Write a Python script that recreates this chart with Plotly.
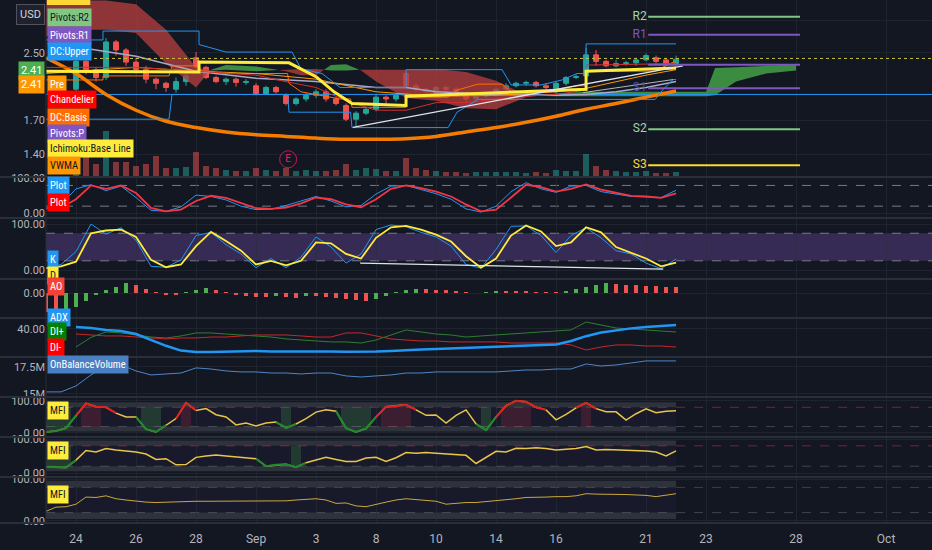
import math
import plotly.graph_objects as go

# ---- time axis: trading days, Aug 24 = 0 ----
tick_days = [0, 2, 4, 6, 8, 10, 12, 14, 16, 19, 21, 24, 27]
tick_text = ["24", "26", "28", "Sep", "3", "8", "10", "14", "16", "21", "23", "28", "Oct"]

# ---- price candles (3 per day) ----
opens = [2.03, 2.38, 2.27, 2.17, 2.66, 2.54, 2.37, 2.27, 2.15, 2.10, 2.03, 2.12, 2.43, 2.30, 2.17,
         2.12, 2.15, 2.11, 2.07, 1.98, 2.05, 1.96, 1.87, 1.92, 1.96, 2.00, 1.92, 1.85, 1.71, 1.77,
         1.81, 1.94, 1.92, 2.22, 2.07, 2.03, 1.98, 2.05, 2.03, 1.96, 1.92, 1.95, 1.96, 2.03, 2.07,
         2.10, 2.11, 2.07, 2.00, 2.10, 2.17, 2.19, 2.47, 2.38, 2.32, 2.35, 2.36, 2.40, 2.43, 2.40, 2.35]
closes = [2.38, 2.27, 2.17, 2.66, 2.54, 2.37, 2.27, 2.15, 2.10, 2.05, 2.12, 2.19, 2.30, 2.17, 2.12,
          2.15, 2.11, 2.12, 1.98, 2.05, 2.00, 1.87, 1.92, 1.96, 2.00, 1.92, 1.87, 1.71, 1.77, 1.81,
          1.94, 1.92, 1.96, 2.07, 2.03, 2.00, 2.05, 2.03, 1.96, 1.92, 1.95, 1.98, 2.03, 2.07, 2.10,
          2.11, 2.07, 2.05, 2.10, 2.17, 2.18, 2.47, 2.38, 2.32, 2.35, 2.36, 2.40, 2.46, 2.38, 2.35, 2.41]
highs = [2.43, 2.57, 2.30, 2.72, 2.69, 2.57, 2.43, 2.32, 2.17, 2.12, 2.17, 2.27, 2.51, 2.32, 2.19,
         2.17, 2.17, 2.15, 2.10, 2.07, 2.07, 1.98, 1.94, 1.99, 2.03, 2.03, 1.94, 1.87, 1.79, 1.83,
         1.97, 1.96, 1.98, 2.24, 2.10, 2.05, 2.07, 2.07, 2.05, 1.98, 1.97, 2.00, 2.05, 2.10, 2.12,
         2.13, 2.13, 2.10, 2.12, 2.19, 2.21, 2.57, 2.54, 2.40, 2.40, 2.39, 2.43, 2.49, 2.46, 2.43, 2.46]
lows = [2.00, 2.21, 2.12, 2.14, 2.46, 2.32, 2.22, 2.10, 2.03, 2.00, 1.99, 2.07, 2.27, 2.15, 2.10,
        2.08, 2.06, 2.08, 1.96, 1.97, 1.98, 1.85, 1.85, 1.89, 1.93, 1.89, 1.85, 1.69, 1.63, 1.75,
        1.79, 1.87, 1.89, 2.05, 2.00, 1.98, 1.96, 2.00, 1.94, 1.89, 1.89, 1.93, 1.94, 2.00, 2.05,
        2.07, 2.05, 2.03, 1.98, 2.07, 2.15, 2.17, 2.32, 2.30, 2.30, 2.32, 2.32, 2.38, 2.35, 2.32, 2.32]
volumes = [4.0, 2.7, 1.2, 4.5, 1.4, 1.4, 1.0, 1.2, 2.0, 0.8, 0.8, 0.9, 2.4, 1.0, 0.8,
           0.6, 0.5, 0.5, 0.8, 0.6, 0.5, 0.8, 0.5, 0.6, 0.5, 0.5, 0.6, 1.2, 0.6, 0.8,
           0.7, 0.5, 0.5, 1.8, 0.8, 0.6, 0.5, 0.4, 0.4, 0.3, 0.4, 0.4, 0.4, 0.4, 0.4,
           0.3, 0.4, 0.3, 0.6, 0.5, 0.5, 2.2, 1.0, 0.6, 0.5, 0.4, 0.4, 0.5, 0.3, 0.3, 0.4]
candle_day = [i / 3 for i in range(len(opens))]

# ---- overlays on the price pane ----
ma_day = list(range(-1, 21))
ma_val = [2.43, 2.22, 1.97, 1.80, 1.69, 1.63, 1.59, 1.565, 1.55, 1.535, 1.525,
          1.525, 1.53, 1.55, 1.59, 1.63, 1.68, 1.74, 1.81, 1.87, 1.94, 2.01]

cloud_day = [-1, 0, 1, 2, 3, 4, 4.5, 5, 6, 7, 7.5, 8, 8.5, 9, 9.5, 10, 11, 12, 13, 14,
             15, 16, 17, 18, 19, 20, 21, 21.3, 22, 23, 24]
span_a = [2.75, 2.85, 2.85, 2.8, 2.35, 2.05, 2.27, 2.33, 2.31, 2.25, 2.20, 2.20, 2.33, 2.34, 2.26,
          2.12, 1.93, 1.90, 1.82, 1.81, 1.94, 1.98, 2.0, 2.0, 2.0, 2.0, 2.0, 2.29, 2.30, 2.32, 2.34]
span_b = [3.37, 3.37, 3.37, 3.3, 2.85, 2.3, 2.26, 2.27, 2.25, 2.27, 2.28, 2.28, 2.26, 2.26, 2.27,
          2.27, 2.27, 2.28, 2.24, 2.13, 1.96, 1.95, 1.95, 1.95, 1.95, 1.95, 1.95, 1.96, 2.12, 2.22, 2.26]

base_day = [-1, 4.1, 4.1, 7.1, 8.0, 8.6, 9.2, 11.0, 11.0, 17.0, 17.0, 20.0]
base_val = [2.25, 2.24, 2.37, 2.36, 2.18, 2.00, 1.87, 1.85, 1.95, 2.03, 2.25, 2.29]

dcu_day = [-1, 0.9, 0.9, 4.1, 4.1, 5.0, 7.2, 7.5, 8.2, 8.8, 11.0, 11.0, 14.2, 14.5, 15.5, 16.2, 16.7, 17.0, 17.0, 20.0]
dcu_val = [2.69, 2.69, 2.83, 2.83, 2.62, 2.51, 2.51, 2.28, 2.22, 2.05, 2.05, 2.27, 2.27, 2.08, 2.08, 2.14, 2.22, 2.22, 2.63, 2.63]
dcl_day = [-1, 3.1, 3.2, 7.05, 7.1, 9.15, 9.2, 12.4, 12.7, 13.4, 19.3, 19.6, 19.9, 20.0]
dcl_val = [1.71, 1.71, 1.97, 1.97, 1.78, 1.78, 1.63, 1.63, 1.78, 1.915, 1.915, 2.04, 2.145, 2.145]
dcb_day = [-1, 0.9, 0.9, 3.1, 3.2, 4.1, 4.1, 5.0, 7.05, 7.1, 7.5, 8.8, 9.15, 9.2, 11.0, 11.0, 12.4,
           12.7, 13.4, 14.2, 14.5, 15.5, 16.7, 17.0, 17.0, 19.3, 19.9, 20.0]
dcb_val = [2.14, 2.14, 2.19, 2.19, 2.32, 2.32, 2.26, 2.22, 2.22, 2.10, 2.00, 1.92, 1.92, 1.83, 1.83, 1.94, 1.94,
           2.02, 2.09, 2.09, 2.00, 2.00, 2.07, 2.07, 2.25, 2.25, 2.37, 2.37]

chand_day = [-1, 2, 4, 5, 6, 7, 8, 9, 10, 11, 12, 13, 14, 15, 16, 17, 17, 20]
chand_val = [2.30, 2.30, 2.25, 2.22, 2.20, 2.12, 2.05, 1.90, 1.80, 1.80, 1.88, 1.88, 1.92, 1.95, 1.97, 2.02, 2.33, 2.35]

gray_day = [0.5, 2, 4, 6, 8, 10, 11, 12, 14, 16, 17, 18, 19, 20]
gray_val = [2.55, 2.45, 2.25, 2.16, 2.12, 2.05, 2.05, 2.00, 1.97, 1.96, 1.97, 2.00, 2.05, 2.12]

vwma_day = [-1, 0, 2, 4, 6, 8, 10, 12, 14, 16, 17, 18, 19, 20]
vwma_val = [2.22, 2.25, 2.30, 2.25, 2.22, 2.15, 2.00, 1.95, 1.96, 2.00, 2.04, 2.12, 2.20, 2.27]

trend_day = [9.23, 20.23]
trend_val = [1.632, 2.32]
trend2_day = [16.9, 19.9]
trend2_val = [1.99, 2.145]

support_level = 1.97
last_price = 2.42

pivot_names = ["R2", "R1", "P", "S1", "S2", "S3"]
pivot_vals = [3.07, 2.77, 2.335, 2.04, 1.614, 1.315]
pivot_span = [19.07, 24.13]

earn_day = 7.07
earn_price = 1.36

# ---- oscillators, half-day grid ----
osc_day = [-1 + 0.5 * i for i in range(43)]
srsi_k = [12, 25, 70, 82, 65, 78, 45, 8, 5, 18, 52, 48, 38, 20, 10, 11, 22, 35, 48, 35, 18, 22,
          55, 78, 80, 68, 56, 40, 12, 3, 20, 62, 88, 70, 60, 78, 80, 62, 56, 48, 47, 45, 66]
srsi_d = [14, 15, 40, 80, 70, 80, 58, 15, 5, 10, 35, 50, 44, 28, 14, 12, 16, 28, 45, 40, 25, 17,
          40, 70, 80, 72, 62, 48, 25, 5, 10, 45, 82, 75, 62, 70, 83, 68, 58, 50, 48, 44, 57]
stoch_k = [3, 12, 40, 100, 78, 92, 65, 8, 6, 22, 75, 82, 55, 35, 5, 25, 5, 28, 72, 50, 15, 35,
           88, 98, 94, 82, 72, 52, 12, 4, 45, 95, 96, 75, 38, 75, 92, 70, 42, 35, 15, 3, 24]
stoch_d = [4, 8, 18, 80, 86, 88, 72, 22, 6, 12, 52, 83, 63, 42, 12, 20, 10, 20, 60, 58, 35, 25,
           70, 93, 96, 88, 77, 62, 30, 5, 25, 75, 97, 84, 52, 60, 93, 82, 50, 38, 25, 8, 16]
stoch_trend_day = [9.47, 19.57]
stoch_trend_val = [15, 2]

adx = [None, None, 41.7, 40.8, 39.2, 38.3, 35.8, 31.0, 26.0, 22.0, 20.8, 20.8, 21.2, 21.7, 21.7,
       21.2, 21.2, 21.2, 21.7, 21.2, 21.0, 20.8, 21.2, 21.7, 22.5, 22.9, 23.3, 23.7, 24.2, 24.6,
       25.0, 25.4, 26.0, 26.5, 27.0, 30.0, 34.0, 37.0, 39.0, 40.5, 41.7, 42.5, 43.3]
di_plus = [None, None, 25.0, 33.0, 37.5, 36.7, 35.0, 33.3, 32.5, 34.2, 36.7, 36.7, 35.8, 35.0, 34.2,
           33.3, 31.7, 30.8, 30.0, 29.2, 29.2, 28.3, 30.8, 35.0, 39.2, 37.5, 35.8, 35.0, 33.3, 34.2,
           35.0, 35.8, 36.7, 37.5, 38.3, 39.2, 45.8, 43.3, 40.8, 40.0, 39.2, 38.3, 37.5]
di_minus = [None, None, 35.8, 35.0, 34.2, 34.2, 33.3, 32.5, 31.7, 32.5, 32.5, 33.3, 33.3, 34.2, 35.0,
            35.0, 35.0, 34.2, 33.3, 33.3, 36.7, 36.7, 34.2, 31.7, 30.8, 30.0, 30.0, 29.2, 29.2, 29.2,
            29.2, 28.3, 28.3, 28.3, 28.3, 26.7, 22.5, 25.0, 26.7, 26.7, 25.8, 25.8, 25.0]
obv_m = [15.19, 15.19, 15.74, 16.76, 17.59, 17.69, 17.13, 16.76, 16.85, 16.94, 17.41, 17.31, 17.13, 17.04,
         17.04, 16.94, 16.94, 16.85, 16.94, 16.94, 16.67, 16.57, 16.67, 16.76, 16.94, 16.94, 17.04, 17.04,
         17.04, 17.04, 17.04, 17.13, 17.22, 17.22, 17.31, 17.31, 17.78, 17.59, 17.69, 17.87, 18.06, 18.06, 18.06]

# ---- third-of-day grid ----
bar_day = [-1 + i / 3 for i in range(64)]
ao = [-0.19, -0.19, -0.18, -0.14, -0.08, -0.02, 0.03, 0.06, 0.10, 0.08, 0.04, 0.01, -0.02, -0.02, 0.01,
      0.03, 0.05, 0.03, 0.01, -0.02, -0.03, -0.04, -0.04, -0.03, -0.04, -0.05, -0.03, -0.03, -0.04, -0.05,
      -0.06, -0.07, -0.08, -0.06, -0.03, 0.01, 0.03, 0.04, 0.04, 0.03, 0.03, 0.02, 0.01, 0.0, 0.01,
      0.02, 0.02, 0.02, 0.02, 0.01, 0.01, 0.01, 0.02, 0.04, 0.06, 0.08, 0.10, 0.09, 0.08, 0.08,
      0.07, 0.07, 0.06, 0.06]
mfi1 = [3, 6, 15, 55, 92, 82, 80, 62, 50, 50, 12, 3, 25, 45, 94, 70, 76, 57, 50, 25, 31, 22, 31, 34, 16,
        28, 45, 65, 72, 68, 15, 3, 14, 50, 82, 84, 88, 72, 55, 56, 31, 55, 72, 28, 9, 50, 85, 100, 97, 80,
        72, 41, 58, 78, 94, 76, 66, 66, 40, 60, 75, 63, 68, 69]
mfi2 = [18, 17, 16, 38, 66, 62, 72, 68, 65, 62, 56, 40, 42, 24, 25, 46, 50, 53, 50, 47, 45, 42, 20, 24, 26,
        17, 30, 38, 46, 40, 34, 34, 44, 46, 34, 45, 60, 58, 60, 58, 56, 54, 52, 28, 45, 64, 62, 73, 72, 74,
        72, 68, 70, 72, 78, 68, 69, 68, 68, 66, 65, 62, 50, 65]
mfi3 = [23, 33, 34, 40, 57, 56, 60, 53, 50, 47, 45, 44, 45, 46, 47, 47, 47, 47, 48, 47, 47, 47, 47, 48, 48,
        50, 52, 53, 50, 42, 43, 36, 34, 40, 45, 50, 53, 51, 49, 47, 40, 42, 44, 44, 46, 48, 50, 53, 56, 56,
        57, 58, 58, 60, 65, 64, 64, 63, 63, 62, 61, 58, 61, 65]

# ---- style ----
BG = "#131722"
GRID = "rgba(42,46,57,0.55)"
SEP = "#2a2e39"
TXT = "#b2b5be"
UP = "#26a69a"
DOWN = "#ef5350"
X_END = 28.6
TAG_FONT = "Liberation Sans Narrow, Roboto Condensed, Roboto"

PLOT_H = 522


def paper_y(px):
    return (PLOT_H - px) / PLOT_H


panes = [(0, 176), (178, 217), (219, 278), (280, 317), (319, 356), (358, 396), (398, 436), (438, 476), (478, 522)]
yranges = [[math.log10(1.236), math.log10(3.38)], [-11.4, 101.5], [-17.4, 111], [-0.24, 0.13],
           [17.5, 48.3], [14.81, 18.33], [-9.4, 109], [-8.8, 103], [-2.4, 102.4]]
ytick = [([1.4, 1.7, 2.5, 3.0], ["1.40", "1.70", "2.50", "3.00"]),
         ([0, 100], ["0.00", "100.00"]),
         ([0, 100], ["0.00", "100.00"]),
         ([0], ["0.00"]),
         ([40], ["40.00"]),
         ([15, 17.5], ["15M", "17.5M"]),
         ([0, 100], ["0.00", "100.00"]),
         ([0, 100], ["0.00", "100.00"]),
         ([0, 100], ["0.00", "100.00"])]

fig = go.Figure()


def line(xs, ys, color, width=1, yaxis="y", dash=None, shape="linear"):
    fig.add_trace(go.Scatter(x=xs, y=ys, mode="lines", yaxis=yaxis, hoverinfo="skip",
                             line=dict(color=color, width=width, dash=dash, shape=shape),
                             connectgaps=False))


# Ichimoku cloud, split where the spans cross
segs = []
cur = dict(x=[cloud_day[0]], a=[span_a[0]], b=[span_b[0]], up=span_a[0] >= span_b[0])
for i in range(1, len(cloud_day)):
    up = span_a[i] >= span_b[i]
    if up != cur["up"]:
        d0 = span_a[i - 1] - span_b[i - 1]
        d1 = span_a[i] - span_b[i]
        t = d0 / (d0 - d1)
        xc = cloud_day[i - 1] + t * (cloud_day[i] - cloud_day[i - 1])
        yc = span_a[i - 1] + t * (span_a[i] - span_a[i - 1])
        cur["x"].append(xc); cur["a"].append(yc); cur["b"].append(yc)
        segs.append(cur)
        cur = dict(x=[xc], a=[yc], b=[yc], up=up)
    cur["x"].append(cloud_day[i]); cur["a"].append(span_a[i]); cur["b"].append(span_b[i])
segs.append(cur)
for s in segs:
    col = "rgba(67,160,71,0.85)" if s["up"] else "rgba(178,62,62,0.78)"
    fig.add_trace(go.Scatter(x=s["x"] + s["x"][::-1], y=s["a"] + s["b"][::-1], fill="toself",
                             fillcolor=col, line=dict(width=0, simplify=False), mode="lines", hoverinfo="skip"))

line([-1, X_END], [support_level] * 2, "#2196f3", 1)
line(ma_day, ma_val, "#f57c00", 3.5, shape="spline")
line(gray_day, gray_val, "#a7a9c9", 1.5)
line(dcb_day, dcb_val, "#ff6d00", 1)
line(vwma_day, vwma_val, "#ff9800", 1)
line(chand_day, chand_val, "#d32f2f", 1)
line(dcu_day, dcu_val, "#2196f3", 1)
line(dcl_day, dcl_val, "#2196f3", 1)
line(base_day, base_val, "#ffeb3b", 3)
line(trend_day, trend_val, "#e0e3eb", 1.3)
line(trend2_day, trend2_val, "#b2b5be", 1)
line([-1, X_END], [last_price] * 2, "#c8c33a", 1, dash="dot")

pivot_colors = ["#81c784", "#7e57c2", "#7e57c2", "#7e57c2", "#81c784", "#fdd835"]
label_colors = ["#a5d6a7", "#7e57c2", None, "#4a55b0", "#a5d6a7", "#fdd835"]
for name, val, c, lc in zip(pivot_names, pivot_vals, pivot_colors, label_colors):
    line(pivot_span, [val, val], c, 2)
    if lc:
        fig.add_trace(go.Scatter(x=[pivot_span[0] - 0.05], y=[val], mode="text", text=[name],
                                 textposition="middle left", hoverinfo="skip",
                                 textfont=dict(color=lc, size=12, family="Roboto")))

fig.add_trace(go.Bar(x=candle_day, y=volumes, yaxis="y10", width=0.22, hoverinfo="skip",
                     marker=dict(color=["rgba(38,166,154,0.5)" if c >= o else "rgba(239,83,80,0.5)"
                                        for o, c in zip(opens, closes)], line=dict(width=0))))

fig.add_trace(go.Candlestick(x=candle_day, open=opens, high=highs, low=lows, close=closes,
                             increasing=dict(line=dict(color=UP, width=1), fillcolor=UP),
                             decreasing=dict(line=dict(color=DOWN, width=1), fillcolor=DOWN),
                             whiskerwidth=0, hoverinfo="skip"))

fig.add_trace(go.Scatter(x=[earn_day], y=[earn_price], mode="markers+text", text=["E"],
                         textposition="middle center", hoverinfo="skip",
                         textfont=dict(color="#e91e63", size=10),
                         marker=dict(size=17, color="rgba(0,0,0,0)", line=dict(color="#c2185b", width=1))))

# stochastic RSI pane
line(osc_day, srsi_k, "#2196f3", 1, yaxis="y2")
line(osc_day, srsi_d, "#f23645", 1.8, yaxis="y2")

# stochastic pane
line(osc_day, stoch_k, "#2196f3", 1, yaxis="y3")
line(osc_day, stoch_d, "#ffeb3b", 1.8, yaxis="y3")
line(stoch_trend_day, stoch_trend_val, "#e0e3eb", 1.3, yaxis="y3")

# awesome oscillator
ao_colors = ["#ef5350" if i == 0 or v <= ao[i - 1] else "#4caf50" for i, v in enumerate(ao)]
fig.add_trace(go.Bar(x=bar_day, y=ao, yaxis="y4", width=0.11, marker=dict(color=ao_colors, line=dict(width=0)),
                     hoverinfo="skip"))

# ADX / DI
line(osc_day, di_plus, "#2e7d32", 1, yaxis="y5")
line(osc_day, di_minus, "#c62828", 1, yaxis="y5")
line(osc_day, adx, "#2196f3", 2.5, yaxis="y5")

# OBV
line(osc_day, obv_m, "#4f86c6", 1, yaxis="y6")


def zone_mask(vals, cond):
    out = []
    for i, v in enumerate(vals):
        near = cond(v) or (i > 0 and cond(vals[i - 1])) or (i < len(vals) - 1 and cond(vals[i + 1]))
        out.append(v if near else None)
    return out


for vals, ax, width, col, shade in [(mfi1, "y7", 1.5, "#e8c547", True), (mfi2, "y8", 1.5, "#e8c547", True),
                                    (mfi3, "y9", 1, "#c9a93a", False)]:
    if shade:
        fig.add_trace(go.Bar(x=bar_day, y=[60 if (v > 80 or v < 20) else None for v in vals], base=20,
                             yaxis=ax, width=1 / 3, hoverinfo="skip",
                             marker=dict(color=["rgba(242,54,69,0.16)" if v > 80 else "rgba(76,175,80,0.22)"
                                                for v in vals], line=dict(width=0))))
    line(bar_day, vals, col, width, yaxis=ax)
    line(bar_day, zone_mask(vals, lambda v: v >= 80), "#e01f1f", width + 0.5, yaxis=ax)
    line(bar_day, zone_mask(vals, lambda v: v <= 20), "#1b8a2a", width + 0.5, yaxis=ax)

# ---- layout ----
layout = dict(
    width=932, height=550, margin=dict(l=46, r=0, t=0, b=28, pad=0),
    paper_bgcolor=BG, plot_bgcolor=BG, showlegend=False, hovermode=False, bargap=0,
    font=dict(family="Roboto", size=12, color=TXT),
    xaxis=dict(domain=[0, 1], range=[-1, 28.53], anchor="y9", tickvals=tick_days, ticktext=tick_text,
               showgrid=True, gridcolor=GRID, zeroline=False, showline=False, ticks="", automargin=False,
               ticklabelstandoff=8, rangeslider=dict(visible=False), tickfont=dict(size=12, color=TXT)),
    yaxis10=dict(overlaying="y", range=[0, 17.6], visible=False, anchor="x", automargin=False),
)
for i in range(9):
    key = "yaxis" if i == 0 else "yaxis%d" % (i + 1)
    top, bot = panes[i]
    layout[key] = dict(domain=[paper_y(bot), paper_y(top)], range=yranges[i], anchor="x", side="left",
                       showgrid=True, gridcolor=GRID, zeroline=False, ticks="", showline=False, automargin=False,
                       tickvals=ytick[i][0], ticktext=ytick[i][1], tickfont=dict(size=11, color=TXT))
layout["yaxis"]["type"] = "log"
fig.update_layout(**layout)

shapes = []
# pane separators
for p in [177, 218, 279, 318, 357, 397, 437, 477, 523]:
    shapes.append(dict(type="line", xref="paper", yref="paper", x0=-0.06, x1=1, y0=paper_y(p), y1=paper_y(p),
                       line=dict(color=SEP, width=2)))
shapes.append(dict(type="line", xref="paper", yref="paper", x0=0, x1=0, y0=0, y1=1, line=dict(color=SEP, width=1)))
# sliver of the topmost (cut-off) tag
shapes.append(dict(type="rect", xref="paper", yref="paper", x0=0.001, x1=0.05, y0=paper_y(5), y1=1,
                   fillcolor="#fdd835", line=dict(width=0)))
# stoch RSI guides
for lvl in [80, 20]:
    shapes.append(dict(type="line", xref="paper", yref="y2", x0=0, x1=1, y0=lvl, y1=lvl,
                       line=dict(color="#787b86", width=1, dash="dash"), layer="below"))
# stoch band
shapes.append(dict(type="rect", xref="paper", yref="y3", x0=0, x1=1, y0=20, y1=80,
                   fillcolor="rgba(126,87,194,0.32)", line=dict(width=0), layer="below"))
for lvl in [80, 20]:
    shapes.append(dict(type="line", xref="paper", yref="y3", x0=0, x1=1, y0=lvl, y1=lvl,
                       line=dict(color="#787b86", width=1, dash="dash"), layer="below"))
# MFI zones
for ax in ["y7", "y8", "y9"]:
    shapes.append(dict(type="rect", xref="x", yref=ax, x0=-1, x1=20, y0=20, y1=80,
                       fillcolor="rgba(126,87,194,0.06)", line=dict(width=0), layer="below"))
    for lo, hi in [(80, 96), (5, 20)]:
        shapes.append(dict(type="rect", xref="x", yref=ax, x0=-1, x1=20, y0=lo, y1=hi,
                           fillcolor="rgba(120,123,134,0.28)", line=dict(width=0), layer="below"))
    shapes.append(dict(type="line", xref="paper", yref=ax, x0=0, x1=1, y0=80, y1=80,
                       line=dict(color="rgba(242,54,69,0.45)", width=1, dash="dash"), layer="below"))
    shapes.append(dict(type="line", xref="paper", yref=ax, x0=0, x1=1, y0=20, y1=20,
                       line=dict(color="rgba(120,123,134,0.45)", width=1, dash="dash"), layer="below"))
fig.update_layout(shapes=shapes)

# indicator name tags
tags = [
    ("Pivots:R2", 18, "#81c784", "#131722"),
    ("Pivots:R1", 35, "#7e57c2", "white"),
    ("DC:Upper", 52, "#2196f3", "white"),
    ("Pre", 84, "#ff9800", "white"),
    ("Chandelier", 100, "#ff0000", "white"),
    ("DC:Basis", 117, "#ff6d00", "white"),
    ("Pivots:P", 133, "#7e57c2", "white"),
    ("Ichimoku:Base Line", 149, "#ffeb3b", "#131722"),
    ("VWMA", 165, "#ff9800", "#131722"),
    ("Plot", 185, "#2196f3", "white"),
    ("Plot", 203, "#ff0000", "white"),
    ("K", 259, "#2196f3", "white"),
    ("D", 275, "#ffeb3b", "#131722"),
    ("AO", 286, "#f44336", "white"),
    ("ADX", 317, "#2196f3", "white"),
    ("DI+", 331, "#008000", "white"),
    ("DI-", 347, "#ff0000", "white"),
    ("OnBalanceVolume", 364, "#4a7fc1", "white"),
    ("MFI", 410, "#ffeb3b", "#131722"),
    ("MFI", 450, "#ffeb3b", "#131722"),
    ("MFI", 494, "#ffeb3b", "#131722"),
]
ann = []
for text, py, bg, fg in tags:
    ann.append(dict(text=text, xref="paper", yref="paper", x=0, y=paper_y(py), xanchor="left", yanchor="middle",
                    xshift=1, showarrow=False, bgcolor=bg, borderpad=2,
                    font=dict(color=fg, size=10.5, family=TAG_FONT)))
for text, py, bg in [("2.41", 70, "#4caf50"), ("2.41", 84, "#ff9800")]:
    ann.append(dict(text=text, xref="paper", yref="paper", x=0, y=paper_y(py), xanchor="right", yanchor="middle",
                    xshift=-1, showarrow=False, bgcolor=bg, borderpad=2, font=dict(color="white", size=11)))
ann.append(dict(text="USD", xref="paper", yref="paper", x=0, y=paper_y(14), xanchor="right", yanchor="middle",
                xshift=-1, showarrow=False, bgcolor="#1e222d", bordercolor="#50535e", borderwidth=1, borderpad=3,
                font=dict(color="#d1d4dc", size=11)))
fig.update_layout(annotations=ann)

fig.write_html("out.html", config={"displayModeBar": False},
               post_script="document.body.style.margin='0';document.body.style.background='#131722';")
